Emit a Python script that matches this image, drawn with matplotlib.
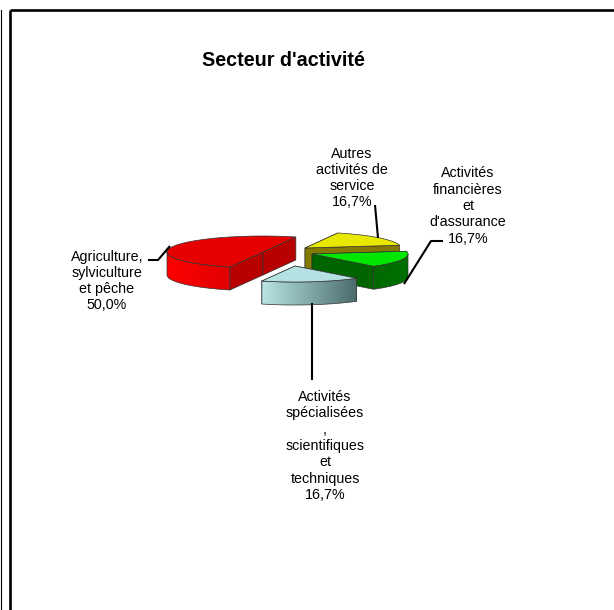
import numpy as np
import matplotlib
matplotlib.use("Agg")
import matplotlib.pyplot as plt
from matplotlib.colors import LinearSegmentedColormap
from matplotlib.patches import Polygon

plt.rcParams['font.family'] = ['Liberation Sans', 'DejaVu Sans']

# Data, clockwise from the back of the pie
labels = ["Autres\nactivités de\nservice",
          "Activités\nfinancières\net\nd'assurance",
          "Activités\nspécialisées\n,\nscientifiques\net\ntechniques",
          "Agriculture,\nsylviculture\net pêche"]
values = [16.7, 16.7, 16.7, 50.0]
pct_text = ["16,7%", "16,7%", "16,7%", "50,0%"]

START_ANGLE = 70.0
RX, RY = 96, 16
DEPTH = 23

# centre of each exploded slice, pixels
centers = [(305, 248), (312, 254), (295, 266), (263, 252)]
top_col = ["#e8e800", "#00e600", "#b4e2e2", "#e60000"]
cut_col = ["#857a00", "#006400", "#8fb5b5", "#b80000"]
arc_col = [("#8a8000", "#7a7000"), ("#006a00", "#007000"),
           ("#b8e4e4", "#4c6c6c"), ("#ff0000", "#e00000")]
draw_order = [0, 1, 3, 2]

label_pos = [(352, 178), (468, 206), (325, 446), (107, 281)]
leaders = [[(375, 205), (378, 238)],
           [(443, 241), (431, 241), (404, 284)],
           [(312, 303), (312, 380)],
           [(148, 260), (158, 260), (170, 246)]]

fig = plt.figure(figsize=(6.14, 6.10), dpi=100)
ax = fig.add_axes([0, 0, 1, 1])
ax.set_xlim(0, 614)
ax.set_ylim(610, 0)
ax.axis("off")

# page frame
ax.plot([10, 10], [610, 10], color="black", lw=1.9, solid_capstyle="butt")
ax.plot([10, 614], [10, 10], color="black", lw=1.9, solid_capstyle="butt")
ax.plot([0.5, 0.5], [10, 610], color="black", lw=0.8)

ax.text(283, 60, "Secteur d'activité", fontsize=14.2, fontweight="bold",
        ha="center", va="center")


def rim(c, a0, a1):
    a = np.radians(np.linspace(a0, a1, 60))
    return np.column_stack([c[0] + RX * np.cos(a), c[1] - RY * np.sin(a)])


def shaded(pts, cols, z):
    # polygon filled by a left to right gradient
    poly = Polygon(pts, closed=True, fc="none", ec="none", zorder=z)
    ax.add_patch(poly)
    cmap = LinearSegmentedColormap.from_list("g", cols)
    x0, x1 = pts[:, 0].min(), pts[:, 0].max()
    y0, y1 = pts[:, 1].min(), pts[:, 1].max()
    im = ax.imshow(np.linspace(0, 1, 64).reshape(1, -1), cmap=cmap, aspect="auto",
                   extent=[x0, x1, y1, y0], zorder=z, interpolation="bilinear")
    im.set_clip_path(poly)
    ax.plot(np.r_[pts[:, 0], pts[0, 0]], np.r_[pts[:, 1], pts[0, 1]],
            color="#333333", lw=0.5, zorder=z + 0.1)


angles = START_ANGLE - np.cumsum([0] + values) / sum(values) * 360
z = 2
for i in draw_order:
    c = centers[i]
    a0, a1 = angles[i], angles[i + 1]
    # cut faces
    for a in (a0, a1):
        edge = rim(c, a, a)[0]
        quad = np.array([c, edge, edge + [0, DEPTH], (c[0], c[1] + DEPTH)])
        ax.add_patch(Polygon(quad, closed=True, fc=cut_col[i], ec="#333333", lw=0.5, zorder=z))
        z += 1
    # outer wall, only the part that faces the viewer
    lo, hi = max(a1, -180), min(a0, 0)
    if hi > lo:
        r = rim(c, lo, hi)
        wall = np.vstack([r, r[::-1] + [0, DEPTH]])
        shaded(wall, arc_col[i], z)
        z += 1
    # top
    top = np.vstack([[c], rim(c, a0, a1)])
    ax.add_patch(Polygon(top, closed=True, fc=top_col[i], ec="#333333", lw=0.5, zorder=z))
    z += 1

for pts in leaders:
    pts = np.array(pts)
    ax.plot(pts[:, 0], pts[:, 1], color="black", lw=1.5, zorder=z, solid_capstyle="butt")

for lab, pct, pos in zip(labels, pct_text, label_pos):
    ax.text(pos[0], pos[1], lab + "\n" + pct, fontsize=10.3, ha="center", va="center",
            linespacing=1.21, zorder=z)

ax.set_xlim(0, 614)
ax.set_ylim(610, 0)
fig.savefig("out.png", dpi=100)
